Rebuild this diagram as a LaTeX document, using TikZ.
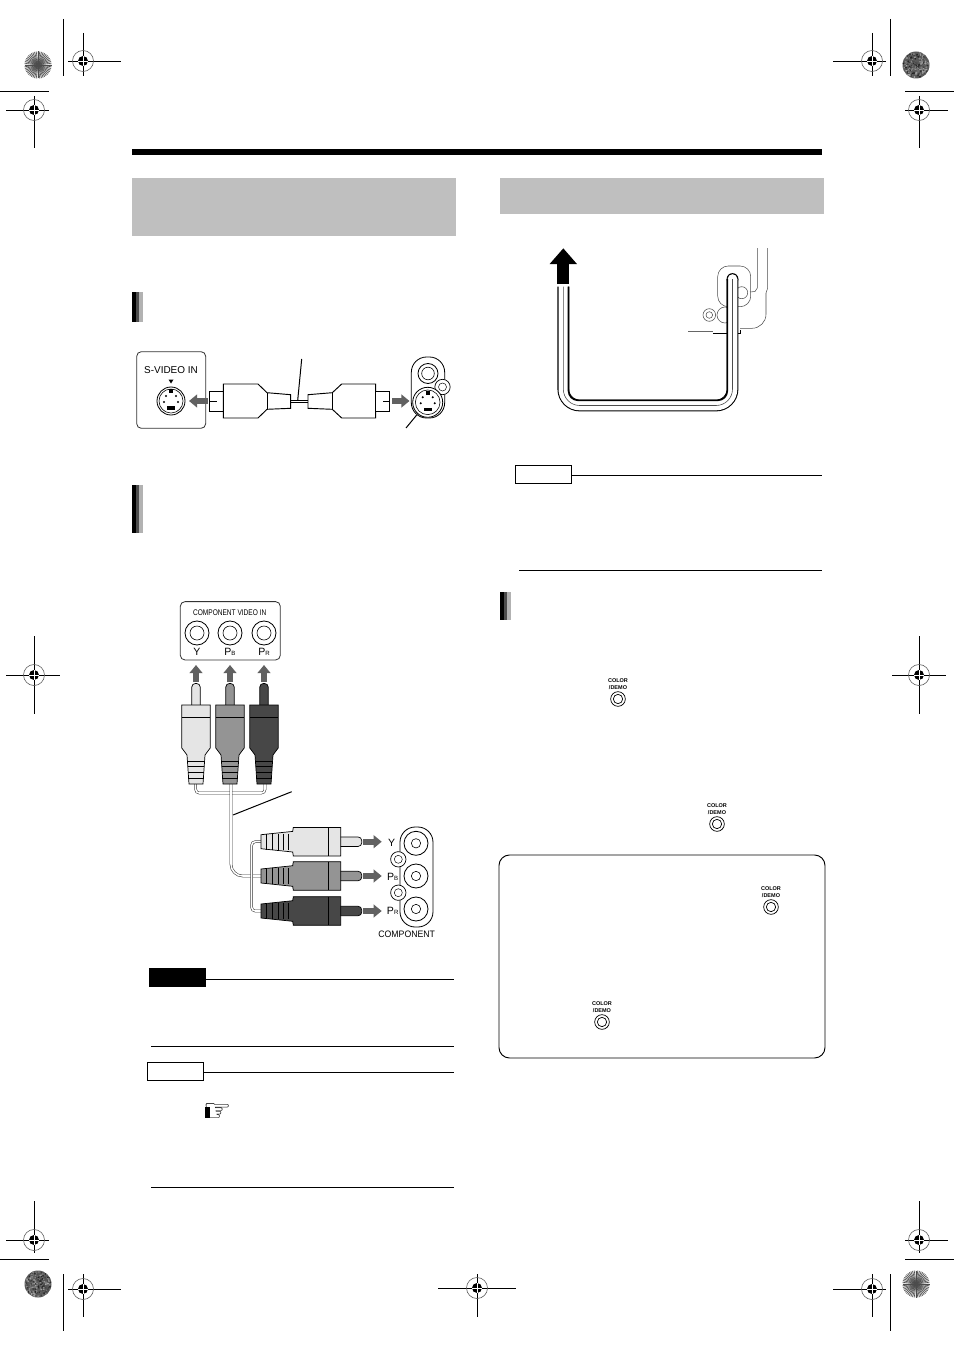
\documentclass[tikz,border=0pt]{standalone}
\usepackage{fontspec}
\setmainfont{Liberation Sans}
\newfontfamily\symbfont{DejaVu Sans}
\usetikzlibrary{arrows.meta}

% one register mark: centre, then ends of the two lines
\newcommand{\regmark}[6]{
	\draw[markline] (#3,#2) -- (#4,#2);
	\draw[markline] (#1,#5) -- (#1,#6);
	\draw[line width=.5pt, black!65] (#1,#2) circle (10.5);
	\fill (#1,#2) circle (5);
	\draw[white, line width=.45pt] (#1-5,#2) -- (#1+5,#2);
	\draw[white, line width=.45pt] (#1,#2-5) -- (#1,#2+5);
}
% round burst in the page corners
\newcommand{\burst}[2]{
	\fill[black!12] (#1,#2) circle (13.5);
	\foreach \ang in {0,7.5,...,352.5} {
		\draw[black!70, line width=.5pt] (#1,#2) -- ++(\ang:13.5);
	}
}
% the same disc, grainy
\newcommand{\graindisc}[2]{
	\fill[black!65] (#1,#2) circle (13.5);
	\foreach \i in {1,...,260} {
		\pgfmathsetmacro{\ang}{rnd*360}
		\pgfmathsetmacro{\rad}{12.6*sqrt(rnd)}
		\pgfmathsetmacro{\tone}{int(30+rnd*60)}
		\fill[black!\tone] (#1,#2) ++(\ang:\rad) circle (.9);
	}
}
% the small button with its two lines of text
\newcommand{\colordemo}[3]{
	\node[btnouter] (#3) at (#1,#2) {};
	\node[btninner] at (#3.center) {};
	\node[btntext] at (#1,#2-18.3) {COLOR};
	\node[btntext] at (#1,#2-11.7) {/DEMO};
}
% P with its small index
\newcommand{\subP}[1]{\fontsize{9}{9}\selectfont P\raisebox{-.4pt}{\fontsize{5.2}{5}\selectfont #1}}

\begin{document}
\begin{tikzpicture}[
		x=.03cm, y=-.03cm,
		markline/.style={line width=.85pt, black},
		greybar/.style={fill=black!25, inner sep=0},
		panel/.style={draw=black!80, line width=.7pt, rounded corners=4pt, inner sep=0},
		blockarrow/.style={line width=5pt, black!62, -{Triangle[length=7pt, width=11pt]}},
		leader/.style={line width=.85pt, black},
		rule/.style={line width=.85pt, black},
		wire/.style={draw=black!80, line width=.45pt, double=white, double distance=1.3pt, rounded corners=3pt},
		jackouter/.style={circle, draw, line width=.7pt, fill=white, minimum size=.72cm, inner sep=0},
		jackinner/.style={circle, draw, line width=.5pt, minimum size=.42cm, inner sep=0},
		screwouter/.style={circle, draw, fill=white, line width=.6pt, minimum size=.46cm, inner sep=0},
		screwinner/.style={circle, draw, line width=.4pt, minimum size=.24cm, inner sep=0},
		btnouter/.style={circle, draw, line width=.6pt, minimum size=.44cm, inner sep=0},
		btninner/.style={circle, draw, line width=.6pt, minimum size=.28cm, inner sep=0},
		btntext/.style={font=\bfseries\fontsize{4.7}{5}\selectfont, inner sep=0},
		notebox/.style={draw, line width=.85pt, minimum width=1.68cm, minimum height=.54cm, inner sep=0}
		]
		\useasboundingbox (0,0) rectangle (954,1350);
		\fill[white] (0,0) rectangle (954,1350);
		\pgfmathsetseed{42}
		
		% Page marks
		\regmark{83}{61}{68}{121}{33}{76}
		\regmark{34}{110}{6}{49}{96}{148}
		\regmark{872}{61}{833}{886}{33}{76}
		\regmark{919}{110}{905}{948}{96}{148}
		\regmark{34}{675}{6}{60}{636}{714}
		\regmark{919}{675}{892}{946}{636}{714}
		\regmark{34}{1240}{6}{49}{1201}{1253}
		\regmark{919}{1240}{905}{948}{1201}{1253}
		\regmark{83}{1289}{68}{121}{1274}{1317}
		\regmark{477}{1288}{438}{516}{1274}{1317}
		\regmark{872}{1289}{833}{886}{1274}{1317}
		\draw[markline] (63,19) -- (63,76);
		\draw[markline] (890,19) -- (890,76);
		\draw[markline] (63,1274) -- (63,1331);
		\draw[markline] (890,1274) -- (890,1331);
		\draw[markline] (0,91) -- (49,91);
		\draw[markline] (905,91) -- (954,91);
		\draw[markline] (0,1259) -- (49,1259);
		\draw[markline] (905,1259) -- (954,1259);
		\burst{38}{65}
		\graindisc{916}{65}
		\graindisc{38}{1284}
		\burst{916}{1284}
		
		% Headings
		\fill (132,149) rectangle (822,155);
		\node[greybar, minimum width=9.72cm, minimum height=1.74cm] (headleft) at (294,207) {};
		\node[greybar, minimum width=9.72cm, minimum height=1.08cm] (headright) at (662,196) {};
		\foreach \bx/\btop/\blow in {132/292/322,132/485/533,500/592/620} {
			\fill (\bx,\btop) rectangle (\bx+4,\blow);
			\fill[black!70] (\bx+4,\btop) rectangle (\bx+7,\blow);
			\fill[black!30] (\bx+7,\btop) rectangle (\bx+11,\blow);
		}
		
		% S-video picture
		\node[panel, minimum width=2.07cm, minimum height=2.3cm] (svideopanel) at (171.2,390) {};
		\node[font=\fontsize{8.5}{9}\selectfont, inner sep=0] (svideotext) at (171,370) {S-VIDEO IN};
		\fill (168.5,379.5) -- (173.5,379.5) -- (171,383.5) -- cycle;
		\node[jackouter, minimum size=.84cm] (svideojack) at (171,401) {};
		\node[jackinner, minimum size=.72cm] at (svideojack.center) {};
		\fill (169,389) rectangle (173,393);
		\fill (167,406) rectangle (175,409.5);
		\foreach \dx/\dy in {-7/1,7/1,-5/-5,5/-5} {
			\fill (171+\dx,401+\dy) circle (1.1);
		}
		\coordinate (arrowleftfrom) at (207.5,401);
		\coordinate (arrowleftto) at (189,401);
		\draw[blockarrow] (arrowleftfrom) -- (arrowleftto);
		
		\draw[line width=.8pt, fill=white] (209,391) rectangle (223.3,411);
		\draw[line width=.8pt] (209,401) -- (217,401);
		\draw[line width=.8pt, fill=white] (223.3,384) -- (258,384) -- (267,392.7) -- (290.7,394.7) -- (290.7,408.3) -- (267,409.3) -- (258,418) -- (223.3,418) -- cycle;
		\draw[line width=.8pt] (267,392.7) -- (267,409.3);
		\draw[line width=.8pt] (290.7,400.3) -- (308,400.3);
		\draw[line width=.8pt] (290.7,402.9) -- (308,402.9);
		\draw[line width=.8pt, fill=white] (308,394.7) -- (332.3,392.7) -- (341.7,384) -- (375.7,384) -- (375.7,418) -- (341.7,418) -- (332.3,409.3) -- (308,408.3) -- cycle;
		\draw[line width=.8pt] (332.3,392.7) -- (332.3,409.3);
		\draw[line width=.8pt, fill=white] (375.7,391) rectangle (389.7,411);
		\draw[line width=.8pt] (383,401) -- (389.7,401);
		\coordinate (cabletop) at (301.7,359);
		\coordinate (cablemid) at (297.7,400.3);
		\draw[leader] (cabletop) -- (cablemid);
		\coordinate (arrowrightfrom) at (392.3,401);
		\coordinate (arrowrightto) at (409.5,401);
		\draw[blockarrow] (arrowrightfrom) -- (arrowrightto);
		
		\node[draw, fill=white, line width=.7pt, rounded corners=13pt, minimum width=1cm, minimum height=1.83cm, inner sep=0] (svsocket) at (428,387.5) {};
		\node[screwouter] (svscrew) at (442.5,387) {};
		\node[screwinner] at (svscrew.center) {};
		\node[jackouter, minimum size=.6cm] (svtop) at (428,373.5) {};
		\node[jackinner, minimum size=.38cm] at (svtop.center) {};
		\node[jackouter, minimum size=.9cm] (svbottom) at (427.7,402.3) {};
		\node[jackinner, minimum size=.74cm] at (svbottom.center) {};
		\fill (425.7,390.5) rectangle (429.7,394.5);
		\fill (423.7,407.5) rectangle (431.7,411);
		\foreach \dx/\dy in {-7/1,7/1,-5/-5,5/-5} {
			\fill (427.7+\dx,402.3+\dy) circle (1.1);
		}
		\coordinate (jackleaderfrom) at (416.7,415);
		\coordinate (jackleaderto) at (406,428);
		\draw[leader] (jackleaderfrom) -- (jackleaderto);
		
		% Component picture, upper part
		\node[panel, minimum width=3cm, minimum height=1.75cm] (comppanel) at (230.3,630.8) {};
		\node[inner sep=0] (comptext) at (229.7,612.5) {\scalebox{.8}[1]{\fontsize{7}{8}\selectfont COMPONENT VIDEO IN}};
		\foreach \cx/\nm in {197/jackY,230/jackB,264/jackR} {
			\node[jackouter] (\nm) at (\cx,633) {};
			\node[jackinner] at (\nm.center) {};
		}
		\node[font=\fontsize{9}{9}\selectfont, inner sep=0] (labelY) at (197,652) {Y};
		\node[inner sep=0] (labelB) at (230,652) {\subP{B}};
		\node[inner sep=0] (labelR) at (264,652) {\subP{R}};
		
		% Cable
		\draw[wire] (195.7,784) -- (195.7,793) -- (265,793) -- (265,784);
		\draw[wire, rounded corners=10pt] (231,784) -- (231,876) -- (262,876);
		\draw[wire] (262,841.7) -- (251.7,841.7) -- (251.7,911) -- (262,911);
		
		% Plugs standing up
		\foreach \cx/\body/\nm in {196/black!10/Y,230/black!42/B,264/black!72/R} {
			\begin{scope}[shift={(\cx,0)}]
				\draw[line width=.6pt, fill=\body, rounded corners=3pt] (-4.2,706) -- (-4.2,683.5) -- (4.2,683.5) -- (4.2,706);
				\draw[line width=.6pt, fill=\body] (-14.2,705) -- (14.2,705) -- (14.2,748) -- (9,755) -- (7,784) -- (-7,784) -- (-9,755) -- (-14.2,748) -- cycle;
				\draw[line width=.6pt] (-14.2,717) -- (14.2,717);
				\foreach \ry in {761,766.5,772,778} {
					\draw[line width=.5pt] (-8,\ry) -- (8,\ry);
				}
				\coordinate (from\nm) at (0,682);
				\coordinate (to\nm) at (0,665);
			\end{scope}
			\draw[blockarrow] (from\nm) -- (to\nm);
		}
		\coordinate (compcabletop) at (291.7,791.7);
		\coordinate (compcablelow) at (233,815);
		\draw[leader] (compcabletop) -- (compcablelow);
		
		% Plugs lying down
		\foreach \cy/\body/\nm in {841.7/black!10/Y,876/black!42/B,911/black!72/R} {
			\begin{scope}[shift={(0,\cy)}]
				\draw[line width=.6pt, fill=\body, rounded corners=3pt] (339,-4.7) -- (361.7,-4.7) -- (361.7,4.7) -- (339,4.7);
				\draw[line width=.6pt, fill=\body] (340.7,-14.3) -- (340.7,14.3) -- (293.3,14.3) -- (292.7,10.3) -- (261,7) -- (261,-7) -- (292.7,-10.3) -- (293.3,-14.3) -- cycle;
				\draw[line width=.6pt] (328.7,-14.3) -- (328.7,14.3);
				\foreach \rx in {266.7,272.7,278.3,283.3,288.3} {
					\draw[line width=.5pt] (\rx,-8) -- (\rx,8);
				}
				\coordinate (pin\nm) at (363.3,0);
				\coordinate (head\nm) at (381.7,0);
			\end{scope}
			\draw[blockarrow] (pin\nm) -- (head\nm);
		}
		
		% Socket strip
		\node[draw, fill=white, line width=.7pt, rounded corners=13pt, minimum width=.99cm, minimum height=3cm, inner sep=0] (socketstrip) at (416.5,877) {};
		\foreach \cy/\nm in {859.3/screwA,892.7/screwB} {
			\node[screwouter] (\nm) at (398.3,\cy) {};
			\node[screwinner] at (\nm.center) {};
		}
		\foreach \cy/\nm in {843.3/sockY,876/sockB,909/sockR} {
			\node[jackouter] (\nm) at (416,\cy) {};
			\node[jackinner, minimum size=.28cm] at (\nm.center) {};
		}
		\node[font=\fontsize{9}{9}\selectfont, inner sep=0] (labelYb) at (391.7,842.7) {Y};
		\node[inner sep=0] (labelBb) at (392.7,876.7) {\subP{B}};
		\node[inner sep=0] (labelRb) at (392.7,910.7) {\subP{R}};
		\node[inner sep=0] (compfoot) at (406.7,934.3) {\scalebox{.93}[1]{\fontsize{8}{9}\selectfont COMPONENT}};
		
		% Notes, left column
		\node[notebox, fill=black] (warnbox) at (177,977.8) {};
		\draw[rule] (206,979.3) -- (454,979.3);
		\draw[rule] (151,1046.3) -- (454,1046.3);
		\node[notebox] (noteleft) at (175,1071.8) {};
		\draw[rule] (noteleft.east |- 0,1072.3) -- (454,1072.3);
		\draw[rule] (151,1187.3) -- (454,1187.3);
		\node[inner sep=0] (handsign) at (218,1112) {\symbfont\fontsize{27}{27}\selectfont ☞};
		\fill (205,1106.5) rectangle (209.5,1118);
		
		% Cord picture, background lines
		\begin{scope}[line width=.45pt, black!70]
			\draw (757.3,248) -- (757.3,288) -- (755,291.5) -- (750,292);
			\draw (767.7,248) -- (767.7,288) -- (766,293);
			\draw[rounded corners=12pt] (766,293) -- (766,328.3) -- (740,328.3);
			\draw[rounded corners=9pt] (717.7,266) rectangle (750.7,306.7);
			\draw (741.7,292.7) circle (6);
			\draw (725,315) circle (8);
			\draw (709.3,315) circle (6.3);
			\draw (709.3,315) circle (3.3);
		\end{scope}
		\coordinate (knobleft) at (688.3,331.3);
		\coordinate (knobright) at (713.3,331.3);
		\draw[line width=.8pt, black!60] (knobleft) -- (knobright);
		\draw[line width=.7pt] (713.3,333) -- (740.7,333) -- (740.7,330);
		
		% Cord
		\draw[line width=10pt, rounded corners=14pt] (563.3,286.7) -- (563.3,405.5) -- (732.5,405.5) -- (732.5,279);
		\fill (732.5,279) circle (5.9);
		\draw[white, line width=8.2pt, rounded corners=14pt] (563.3,285) -- (563.3,405.5) -- (732.5,405.5) -- (732.5,279);
		\fill[white] (732.5,279) circle (4.8);
		\draw[line width=1.3pt, rounded corners=8pt] (568.5,286.7) -- (568.5,400.3) -- (727.3,400.3) -- (727.3,279);
		\draw[line width=.5pt, rounded corners=14pt, black!70] (563.3,286.7) -- (563.3,405.5) -- (732.5,405.5) -- (732.5,279);
		\coordinate (cordtail) at (563.3,284);
		\coordinate (cordhead) at (563.3,248.3);
		\draw[line width=10.2pt, -{Triangle[length=13.5pt, width=22.6pt]}] (cordtail) -- (cordhead);
		
		% Notes, right column
		\node[notebox] (noteright) at (543,474) {};
		\draw[rule] (noteright.east |- 0,475) -- (822,475);
		\draw[rule] (519,570.5) -- (822,570.5);
		
		% Buttons
		\colordemo{618}{699}{btnA}
		\colordemo{717}{824}{btnB}
		\colordemo{771}{907}{btnC}
		\colordemo{602}{1022}{btnD}
		
		% Box at the bottom
		\node[draw, line width=.8pt, rounded corners=9pt, minimum width=9.78cm, minimum height=6.09cm, inner sep=0] (tipbox) at (662,956.5) {};
		
	\end{tikzpicture}
\end{document}
